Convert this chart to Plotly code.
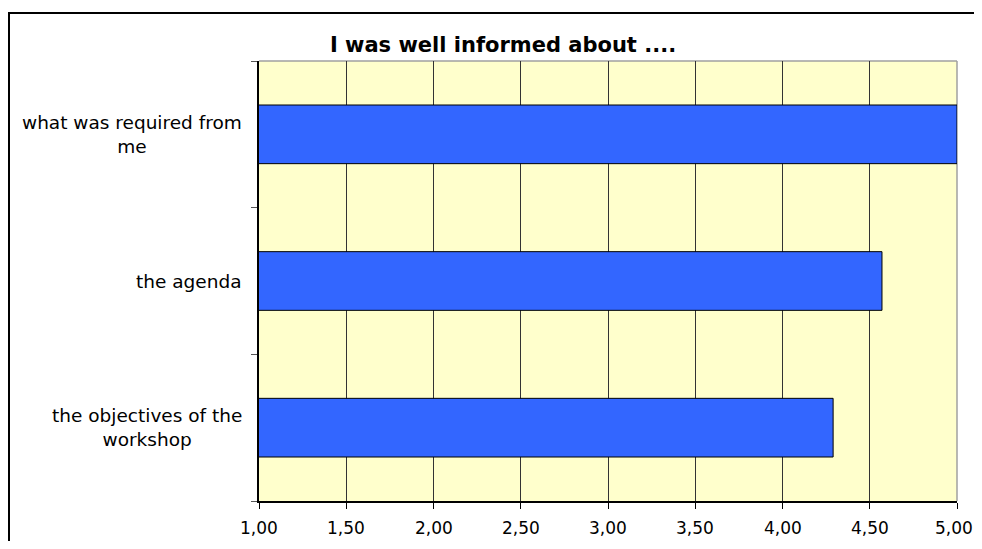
import plotly.graph_objects as go

categories = ["the objectives of the<br>workshop", "the agenda", "what was required from<br>me"]
values = [4.29, 4.57, 5.00]
title_text = "I was well informed about ...."
x_ticks = [1.0, 1.5, 2.0, 2.5, 3.0, 3.5, 4.0, 4.5, 5.0]
x_tick_labels = ["1,00", "1,50", "2,00", "2,50", "3,00", "3,50", "4,00", "4,50", "5,00"]
x_range = [1, 5]

# page body has an 8px default margin; compensate so the plot lands where the reference has it
OFF = 8
W, H = 982 - 2 * OFF, 549 - 2 * OFF
L, T = 259 - OFF, 61 - OFF
R = W - (957 - OFF)
B = H - (501 - OFF)
pw, ph = W - L - R, H - T - B

fig = go.Figure()
fig.add_trace(go.Bar(
    y=categories, x=values, orientation="h",
    marker=dict(color="#3366FF", line=dict(color="#000000", width=1)),
    hoverinfo="x+y",
))

font_family = "DejaVu Sans"
tick_size = 17

annotations = []
for cat in categories:
    annotations.append(dict(
        xref="paper", yref="y", x=0, y=cat, text=cat, showarrow=False,
        xanchor="right", yanchor="middle", align="center", xshift=-15,
        font=dict(family=font_family, size=18.5, color="#000000"),
    ))

# x tick labels as text (keeps the last label inside the page)
half_w = 2.226 * tick_size / 2
for v, lab in zip(x_ticks, x_tick_labels):
    px = L + (v - x_range[0]) / (x_range[1] - x_range[0]) * pw
    shift = min(0.0, (W - 1) - (px + half_w))
    annotations.append(dict(
        xref="x", yref="paper", x=v, y=0, text=lab, showarrow=False,
        xanchor="center", yanchor="top", yshift=-15, xshift=shift,
        font=dict(family=font_family, size=tick_size, color="#000000"),
    ))

# outer frame (extends beyond the visible area at right and bottom)
fx0 = (9 - OFF - L) / pw
fx1 = (W + 40 - L) / pw
fy1 = (H - B - (13 - OFF)) / ph
fy0 = (H - B - (H + 40)) / ph

shapes = [
    dict(type="rect", xref="paper", yref="paper", x0=fx0, x1=fx1, y0=fy0, y1=fy1,
         line=dict(color="#000000", width=2), fillcolor="rgba(0,0,0,0)", layer="above"),
    dict(type="line", xref="paper", yref="paper", x0=0, x1=1, y0=1, y1=1,
         line=dict(color="#A0A0A0", width=1.5), layer="between"),
    dict(type="line", xref="paper", yref="paper", x0=1, x1=1, y0=0, y1=1,
         line=dict(color="#A0A0A0", width=1.5), layer="between"),
]

fig.update_layout(
    width=W, height=H,
    margin=dict(l=L, r=R, t=T, b=B, pad=0),
    paper_bgcolor="#FFFFFF", plot_bgcolor="#FFFFCC",
    showlegend=False,
    bargap=0.6,
    title=dict(text="<b>" + title_text + "</b>", xref="container", yref="container",
               x=(503 - OFF) / W, y=1 - (44.5 - OFF) / H, xanchor="center", yanchor="middle",
               font=dict(family=font_family, size=21, color="#000000")),
    xaxis=dict(range=x_range, tickvals=x_ticks, showticklabels=False,
               showgrid=True, gridcolor="#333333", gridwidth=1,
               showline=True, linecolor="#000000", linewidth=1.5,
               ticks="outside", ticklen=6, tickcolor="#000000", tickwidth=1,
               zeroline=False, fixedrange=True),
    yaxis=dict(type="category", tickson="boundaries", showgrid=False,
               showline=True, linecolor="#000000", linewidth=1.5,
               ticks="outside", ticklen=6, tickcolor="#555555", tickwidth=1,
               showticklabels=False, zeroline=False, fixedrange=True),
    annotations=annotations,
    shapes=shapes,
)

fig.write_html("out.html")
